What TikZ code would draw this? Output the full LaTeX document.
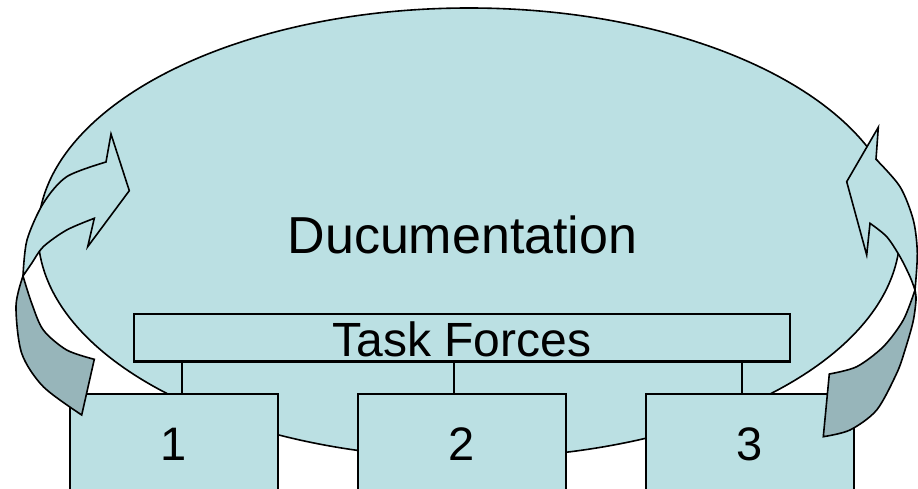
\documentclass[tikz,border=0pt]{standalone}
\usepackage{fontspec}
\setmainfont{Liberation Sans}
\usetikzlibrary{shapes.geometric}
\definecolor{lightfill}{RGB}{187,224,227}
\definecolor{darkfill}{RGB}{151,181,186}
\begin{document}
\begin{tikzpicture}[x=1pt,y=-1pt,
  ovalshape/.style={ellipse, draw=black, fill=lightfill, line width=1.6pt, inner sep=0pt, outer sep=0pt},
  tbox/.style={rectangle, draw=black, fill=lightfill, line width=2.6pt, inner sep=0pt, outer sep=0pt},
  wire/.style={draw=black, line width=2.4pt},
  armlight/.style={draw=black, fill=lightfill, line width=1.6pt, line join=miter},
  armdark/.style={draw=black, fill=darkfill, line width=1.6pt, line join=miter},
  bigtext/.style={font=\fontsize{52}{60}\selectfont, anchor=base, inner sep=0pt},
  midtext/.style={font=\fontsize{48}{56}\selectfont, anchor=base, inner sep=0pt},
  numtext/.style={font=\fontsize{47}{55}\selectfont, anchor=base, inner sep=0pt}]
\useasboundingbox (0,0) rectangle (918,489);
\clip (0,0) rectangle (918,489);
% main ellipse
\node[ovalshape, minimum width=862pt, minimum height=450pt] (doc) at (469,233) {};
\node[bigtext] (doctext) at (462.5,253) {Ducumentation};
% task forces bar
\node[tbox, minimum width=656pt, minimum height=47.7pt, anchor=north west] (tf) at (134,314) {};
\node[midtext] (tftext) at (461.7,356.7) {Task Forces};
% boxes
\node[tbox, minimum width=208pt, minimum height=140pt, anchor=north] (b1) at (174,394) {};
\node[tbox, minimum width=208pt, minimum height=140pt, anchor=north] (b2) at (462,394) {};
\node[tbox, minimum width=208pt, minimum height=140pt, anchor=north] (b3) at (750,394) {};
\node[numtext] (n1) at (174,460) {1};
\node[numtext] (n2) at (462,460) {2};
\node[numtext] (n3) at (750,460) {3};
% connectors
\coordinate (k1) at (182,394);
\coordinate (k2) at (454,394);
\coordinate (k3) at (742,394);
\draw[wire] (tf.south -| k1) -- (k1);
\draw[wire] (tf.south -| k2) -- (k2);
\draw[wire] (tf.south -| k3) -- (k3);
% left curved arrow: back part
\path[armdark] (23,276) -- plot[smooth] coordinates {(23,276) (16,306) (21.7,353.3) (43.3,386.7) (81.7,415)}
  -- (94.3,359.3) -- plot[smooth] coordinates {(94.3,359.3) (66.7,350) (43.3,330) (31.7,303.3) (23,276)} -- cycle;
% left curved arrow: front part
\path[armlight] (106,162) -- (111,134) -- (129.3,190.7) -- (87.7,246.7) -- (94.3,218.3)
  -- plot[smooth] coordinates {(94.3,218.3) (66.7,230) (43.3,246.7) (31.7,263.3) (23,276)}
  -- plot[smooth] coordinates {(23,276) (27,240) (43.3,203.3) (66.7,176.7) (106,162)} -- cycle;
% right curved arrow: back part
\path[armdark] (915,290) -- plot[smooth] coordinates {(915,290) (916,300) (913,322) (905,350) (896.7,373.3) (876.7,410) (850,430) (823.3,436.7)}
  -- (829.3,374) -- plot[smooth] coordinates {(829.3,374) (856.7,366.7) (883.3,346.7) (903.3,320) (915,290)} -- cycle;
% right curved arrow: front part
\path[armlight] (876,159.3) -- (878.3,127.3) -- (846.7,181.7) -- (866.7,255) -- (870,223.3)
  -- plot[smooth] coordinates {(870,223.3) (886.7,236.7) (900,256.7) (910,276.7) (915,290)}
  -- plot[smooth] coordinates {(915,290) (917.3,253) (913.3,220) (900,186.7) (876,159.3)} -- cycle;
\end{tikzpicture}
\end{document}
